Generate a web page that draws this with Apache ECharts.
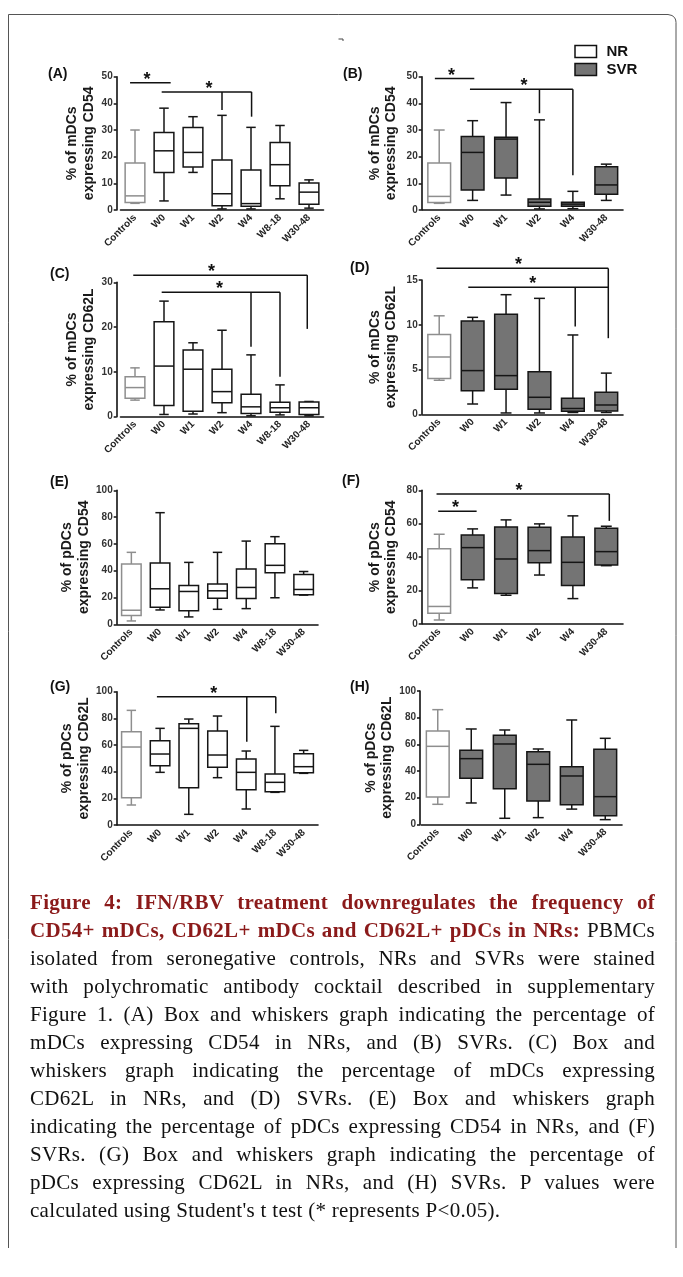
<!DOCTYPE html>
<html>
<head>
<meta charset="utf-8">
<script src="https://cdn.jsdelivr.net/npm/echarts@6/dist/echarts.min.js"></script>
<style>
html,body{margin:0;padding:0;background:#fff;}
#chart{position:absolute;left:0;top:0;width:683px;height:1277px;}
#cap{position:absolute;left:30px;top:888px;width:625px;font-family:'Liberation Serif','DejaVu Serif',serif;font-size:21px;line-height:28px;letter-spacing:0.3px;color:#111;}
#cap .l{text-align:justify;text-align-last:justify;white-space:nowrap;}
#cap .z{text-align:left;white-space:nowrap;}
#cap b{color:#8b1a1a;}
</style>
</head>
<body>
<div id="chart"></div>
<div id="cap">
<div class="l"><b>Figure 4: IFN/RBV treatment downregulates the frequency of</b></div>
<div class="l"><b>CD54+ mDCs, CD62L+ mDCs and CD62L+ pDCs in NRs:</b> PBMCs</div>
<div class="l">isolated from seronegative controls, NRs and SVRs were stained</div>
<div class="l">with polychromatic antibody cocktail described in supplementary</div>
<div class="l">Figure 1. (A) Box and whiskers graph indicating the percentage of</div>
<div class="l">mDCs expressing CD54 in NRs, and (B) SVRs. (C) Box and</div>
<div class="l">whiskers graph indicating the percentage of mDCs expressing</div>
<div class="l">CD62L in NRs, and (D) SVRs. (E) Box and whiskers graph</div>
<div class="l">indicating the percentage of pDCs expressing CD54 in NRs, and (F)</div>
<div class="l">SVRs. (G) Box and whiskers graph indicating the percentage of</div>
<div class="l">pDCs expressing CD62L in NRs, and (H) SVRs. P values were</div>
<div class="z">calculated using Student's t test (* represents P&lt;0.05).</div>
</div>
<script>
// ---------- categories ----------
const catsNR = ['Controls', 'W0', 'W1', 'W2', 'W4', 'W8-18', 'W30-48'];
const catsSVR = ['Controls', 'W0', 'W1', 'W2', 'W4', 'W30-48'];

// ---------- box values: [min, Q1, median, Q3, max] ----------
const mdcCD54_NR = [
  [2.5, 2.8, 5.3, 17.6, 30.0],
  [3.4, 14.1, 22.2, 29.1, 38.2],
  [14.1, 16.1, 21.6, 30.9, 35.0],
  [0.4, 1.6, 6.1, 18.8, 35.5],
  [0.4, 1.4, 2.4, 15.0, 31.0],
  [4.2, 9.1, 17.0, 25.3, 31.7],
  [0.7, 2.2, 6.7, 10.1, 11.3]
];
const mdcCD54_SVR = [
  [2.5, 2.8, 5.1, 17.6, 30.0],
  [3.6, 7.5, 21.6, 27.6, 33.5],
  [5.6, 12.0, 26.6, 27.3, 40.3],
  [0.4, 1.4, 2.9, 4.1, 33.8],
  [0.5, 1.4, 2.2, 2.9, 7.0],
  [3.6, 5.9, 9.4, 16.2, 17.2]
];
const mdcCD62L_NR = [
  [3.7, 4.1, 6.5, 8.9, 10.9],
  [0.5, 2.5, 11.3, 21.2, 25.8],
  [0.6, 1.2, 10.6, 14.9, 16.5],
  [0.9, 3.1, 5.6, 10.6, 19.3],
  [0.2, 0.7, 2.2, 5.0, 13.8],
  [0.4, 1.0, 2.0, 3.2, 7.1],
  [0.2, 0.5, 2.0, 3.3, 3.4]
];
const mdcCD62L_SVR = [
  [3.8, 4.0, 6.4, 8.9, 11.0],
  [1.15, 2.64, 4.88, 10.42, 10.83],
  [0.15, 2.79, 4.32, 11.17, 13.36],
  [0.15, 0.56, 1.9, 4.76, 12.95],
  [0.2, 0.35, 0.65, 1.8, 8.86],
  [0.2, 0.37, 1.04, 2.46, 4.6]
];
const pdcCD54_NR = [
  [2.5, 6.5, 10.5, 45.0, 53.7],
  [10.7, 12.7, 26.5, 45.7, 83.3],
  [5.5, 10.2, 24.5, 29.0, 46.2],
  [11.2, 19.4, 25.0, 30.0, 53.7],
  [11.7, 19.3, 27.5, 41.2, 62.1],
  [19.8, 38.5, 44.0, 60.1, 65.4],
  [21.8, 22.1, 26.0, 37.2, 39.4]
];
const pdcCD54_SVR = [
  [2.4, 6.5, 10.5, 45.1, 53.7],
  [21.6, 26.5, 45.7, 53.3, 56.9],
  [17.2, 18.2, 38.9, 58.1, 62.3],
  [29.3, 36.7, 43.9, 57.9, 59.9],
  [15.2, 23.0, 36.9, 52.1, 64.7],
  [34.9, 35.3, 43.3, 57.3, 58.5]
];
const pdcCD62L_NR = [
  [15, 20.5, 58.5, 70, 86],
  [39.5, 44.5, 53.25, 63.25, 72.5],
  [8, 28, 72.5, 76, 79.5],
  [35.5, 43.25, 52.5, 70.5, 81.75],
  [12, 26.5, 39.5, 49.5, 55.5],
  [24.5, 25, 32, 38.25, 74],
  [38.75, 39.25, 43.75, 53.5, 56]
];
const pdcCD62L_SVR = [
  [15, 20.5, 58.5, 70, 86],
  [16, 34.5, 49.25, 55.5, 71.5],
  [4.5, 26.75, 60.25, 66.75, 70.75],
  [5, 17.5, 45, 54.5, 56.5],
  [11.4, 14.6, 36.25, 43.25, 78.25],
  [3.5, 6.4, 20.75, 56.25, 64.5]
];

// ---------- significance brackets (category-index units, value units) ----------
const sigA = [
  {from: -0.17, to: 1.23, y: 47.7, drops: [], star: 0.41},
  {from: 0.92, to: 4.02, y: 44.3, drops: [[3, 37.5], [4.02, 35]], star: 2.55}
];
const sigB = [
  {from: -0.13, to: 1.05, y: 49.3, drops: [], star: 0.37},
  {from: 0.92, to: 4.0, y: 45.3, drops: [[3, 36.3], [4, 13]], star: 2.54}
];
const sigC = [
  {from: -0.06, to: 5.94, y: 31.6, drops: [[5.94, 19.6]], star: 2.64},
  {from: 0.92, to: 5.0, y: 27.8, drops: [[4, 15.6], [5, 8.9]], star: 2.91}
];
const sigD = [
  {from: -0.08, to: 5.06, y: 16.3, drops: [[5.06, 8.5]], star: 2.37},
  {from: 0.87, to: 5.06, y: 14.2, drops: [[4.07, 9.8]], star: 2.8}
];
const sigE = [];
const sigF = [
  {from: -0.08, to: 5.09, y: 77.8, drops: [[5.09, 61.7]], star: 2.39},
  {from: -0.03, to: 1.12, y: 67.5, drops: [], star: 0.49}
];
const sigG = [
  {from: 0.89, to: 5.03, y: 96.25, drops: [[4.02, 62.5], [5.03, 83.75]], star: 2.87}
];
const sigH = [];

// ---------- axis ranges / texts ----------
const yMaxs = [50, 50, 30, 15, 100, 80, 100, 100];
const ySteps = [10, 10, 10, 5, 20, 20, 20, 20];
const yNames = [
  '% of mDCs\nexpressing CD54', '% of mDCs\nexpressing CD54',
  '% of mDCs\nexpressing CD62L', '% of mDCs\nexpressing CD62L',
  '% of pDCs\nexpressing CD54', '% of pDCs\nexpressing CD54',
  '% of pDCs\nexpressing CD62L', '% of pDCs\nexpressing CD62L'
];
const panelKeys = ['(A)', '(B)', '(C)', '(D)', '(E)', '(F)', '(G)', '(H)'];
const legendNames = ['NR', 'SVR'];

// ---------- layout ----------
const FONT = '"Liberation Sans", Arial, sans-serif';
const panels = [
  {cats: catsNR, data: mdcCD54_NR, sig: sigA, svr: false, grid: {left: 120.5, top: 76.7, width: 203, height: 133.3}, off: 3.8, gap: 19.5, lab: [48, 74]},
  {cats: catsSVR, data: mdcCD54_SVR, sig: sigB, svr: true, grid: {left: 422.5, top: 76.7, width: 200.5, height: 133.3}, off: 0.8, gap: 22, lab: [343, 74]},
  {cats: catsNR, data: mdcCD62L_NR, sig: sigC, svr: false, grid: {left: 120.5, top: 282.3, width: 203, height: 134.4}, off: 3.8, gap: 19.5, lab: [50, 274.5]},
  {cats: catsSVR, data: mdcCD62L_SVR, sig: sigD, svr: true, grid: {left: 422.5, top: 280, width: 200.5, height: 134.3}, off: 0.8, gap: 22, lab: [350, 268.5]},
  {cats: catsNR, data: pdcCD54_NR, sig: sigE, svr: false, grid: {left: 117, top: 490.3, width: 201, height: 134}, off: 0.3, gap: 19.5, lab: [50, 482]},
  {cats: catsSVR, data: pdcCD54_SVR, sig: sigF, svr: true, grid: {left: 422.5, top: 490.3, width: 200.5, height: 133.7}, off: 0.8, gap: 22, lab: [342, 481]},
  {cats: catsNR, data: pdcCD62L_NR, sig: sigG, svr: false, grid: {left: 117, top: 691.7, width: 201, height: 133.3}, off: 0.3, gap: 19.5, lab: [50, 687]},
  {cats: catsSVR, data: pdcCD62L_SVR, sig: sigH, svr: true, grid: {left: 421, top: 691, width: 201, height: 133.3}, off: 1, gap: 22, lab: [350, 687]}
];

const BOXW = 0.68, CAPW = 0.48;
function boxRenderer(svr) {
  return function (params, api) {
    const i = api.value(0);
    const vs = [1, 2, 3, 4, 5].map(d => api.value(d));
    const band = api.size([1, 0])[0];
    const x = api.coord([i, 0])[0];
    const y = vs.map(v => api.coord([i, v])[1]);
    const ctrl = i === 0;
    const stroke = ctrl ? '#8e8e8e' : '#151515';
    const fill = (!ctrl && svr) ? '#747474' : '#ffffff';
    const w = band * BOXW, c = w * CAPW;
    const ls = {stroke: stroke, lineWidth: 1.5};
    return {type: 'group', children: [
      {type: 'line', shape: {x1: x, y1: y[3], x2: x, y2: y[4]}, style: ls},
      {type: 'line', shape: {x1: x - c / 2, y1: y[4], x2: x + c / 2, y2: y[4]}, style: ls},
      {type: 'line', shape: {x1: x, y1: y[1], x2: x, y2: y[0]}, style: ls},
      {type: 'line', shape: {x1: x - c / 2, y1: y[0], x2: x + c / 2, y2: y[0]}, style: ls},
      {type: 'rect', shape: {x: x - w / 2, y: y[3], width: w, height: y[1] - y[3]}, style: {fill: fill, stroke: stroke, lineWidth: 1.5}},
      {type: 'line', shape: {x1: x - w / 2, y1: y[2], x2: x + w / 2, y2: y[2]}, style: ls}
    ]};
  };
}
function sigRenderer(sig) {
  return function (params, api) {
    const s = sig[params.dataIndex];
    const band = api.size([1, 0])[0];
    const x0 = api.coord([0, 0])[0];
    const X = v => x0 + v * band;
    const Y = v => api.coord([0, v])[1];
    const ls = {stroke: '#111', lineWidth: 1.5};
    const ch = [{type: 'line', shape: {x1: X(s.from), y1: Y(s.y), x2: X(s.to), y2: Y(s.y)}, style: ls}];
    s.drops.forEach(d => ch.push({type: 'line', shape: {x1: X(d[0]), y1: Y(s.y), x2: X(d[0]), y2: Y(d[1])}, style: ls}));
    ch.push({type: 'text', style: {text: '*', x: X(s.star), y: Y(s.y) - 3, align: 'center', verticalAlign: 'middle', font: 'bold 18px ' + FONT, fill: '#111'}});
    return {type: 'group', children: ch};
  };
}

const grids = [], xAxes = [], yAxes = [], series = [], graphics = [];
panels.forEach((p, k) => {
  grids.push(Object.assign({containLabel: false}, p.grid));
  xAxes.push({
    type: 'category', gridIndex: k, data: p.cats,
    axisLine: {lineStyle: {color: '#111', width: 1.6}},
    axisTick: {alignWithLabel: true, length: 4, lineStyle: {color: '#111', width: 1.5}},
    axisLabel: {rotate: 45, interval: 0, margin: 6, fontSize: 10, fontWeight: 'bold', color: '#222', fontFamily: FONT},
    splitLine: {show: false}
  });
  yAxes.push({
    type: 'value', gridIndex: k, min: 0, max: yMaxs[k], interval: ySteps[k], offset: p.off,
    name: yNames[k], nameLocation: 'middle', nameRotate: 90, nameGap: p.gap,
    nameTextStyle: {fontSize: 14, fontWeight: 'bold', color: '#1a1a1a', fontFamily: FONT, lineHeight: 16.5},
    axisLine: {show: true, lineStyle: {color: '#111', width: 1.6}},
    axisTick: {show: true, length: 3, lineStyle: {color: '#111', width: 1.5}},
    axisLabel: {margin: 4, fontSize: 10, fontWeight: 'bold', color: '#333', fontFamily: FONT},
    splitLine: {show: false}
  });
  series.push({
    type: 'custom', name: panelKeys[k], xAxisIndex: k, yAxisIndex: k,
    data: p.data.map((r, i) => [i].concat(r)),
    encode: {x: 0, y: [1, 2, 3, 4, 5]},
    renderItem: boxRenderer(p.svr), z: 3, silent: true
  });
  if (p.sig.length) {
    series.push({
      type: 'custom', name: panelKeys[k] + ' sig', xAxisIndex: k, yAxisIndex: k,
      data: p.sig.map(() => [0, 0]), clip: false,
      renderItem: sigRenderer(p.sig), z: 4, silent: true
    });
  }
  graphics.push({type: 'text', x: p.lab[0], y: p.lab[1],
    style: {text: panelKeys[k], font: 'bold 14px ' + FONT, fill: '#111', verticalAlign: 'middle'}});
});

// legend
graphics.push({type: 'rect', shape: {x: 575, y: 45.5, width: 21.5, height: 12}, style: {fill: '#fff', stroke: '#111', lineWidth: 1.5}});
graphics.push({type: 'rect', shape: {x: 575, y: 63.5, width: 21.5, height: 12}, style: {fill: '#747474', stroke: '#111', lineWidth: 1.5}});
graphics.push({type: 'text', x: 606.5, y: 52, style: {text: legendNames[0], font: 'bold 15px ' + FONT, fill: '#111', verticalAlign: 'middle'}});
graphics.push({type: 'text', x: 606.5, y: 70, style: {text: legendNames[1], font: 'bold 15px ' + FONT, fill: '#111', verticalAlign: 'middle'}});
// small stray mark at top
graphics.push({type: 'polyline', shape: {points: [[338.5, 39], [343, 39], [343, 41]]}, style: {stroke: '#444', lineWidth: 1, fill: null}});
// figure frame (open at the bottom, rounded top-right corner)
graphics.push({type: 'polyline', shape: {points: [[8.5, 1248], [8.5, 14.5], [668, 14.5], [672, 15.5], [674.6, 17.6], [675.7, 20], [676, 22.5], [676, 1248]]}, style: {fill: null, stroke: '#555', lineWidth: 1}, z: -10});

const chart = echarts.init(document.getElementById('chart'), null, {renderer: 'canvas'});
chart.setOption({
  animation: false,
  backgroundColor: 'transparent',
  grid: grids, xAxis: xAxes, yAxis: yAxes, series: series, graphic: graphics
});
</script>
</body>
</html>
